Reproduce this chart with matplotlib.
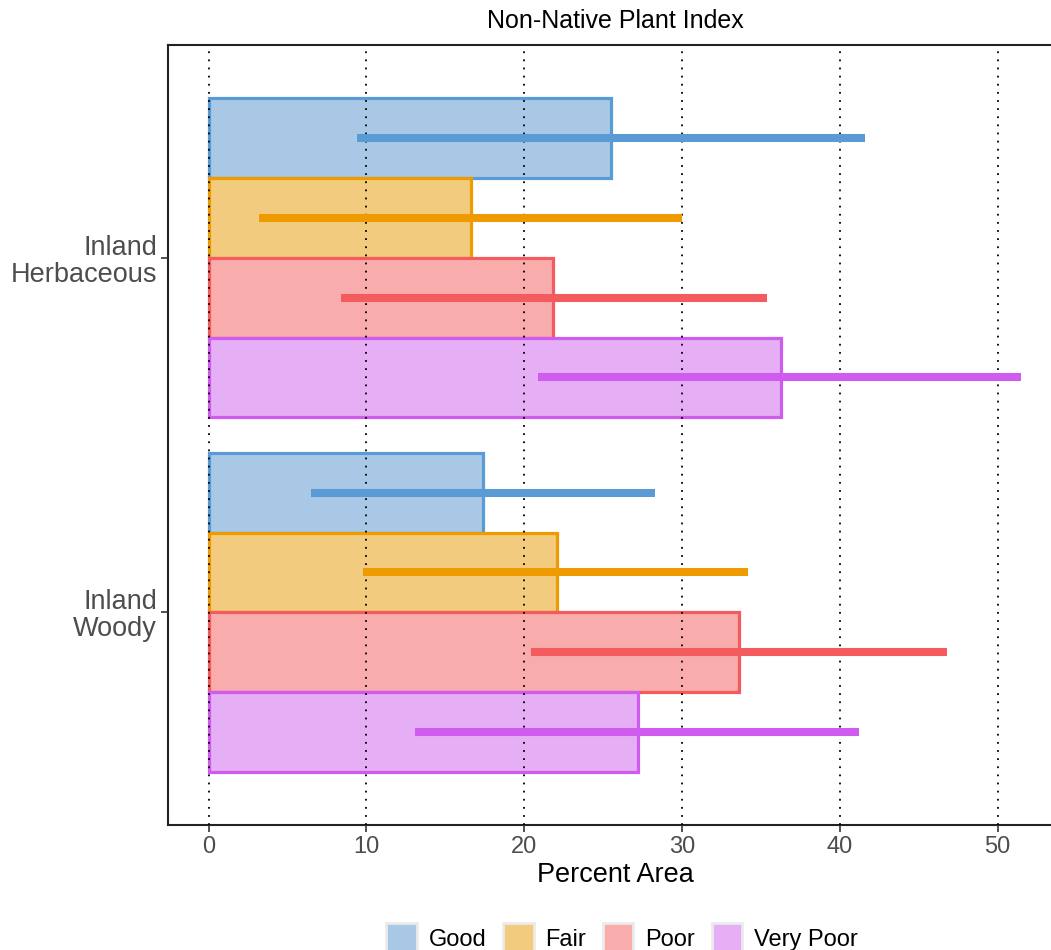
import numpy as np
import matplotlib.pyplot as plt
from matplotlib.patches import Patch

plt.rcParams['font.family'] = ['Liberation Sans', 'DejaVu Sans']

# habitat classes (top to bottom) and condition categories
habitats = ['Inland\nHerbaceous', 'Inland\nWoody']
conditions = ['Good', 'Fair', 'Poor', 'Very Poor']

# percent area estimates with lower / upper confidence bounds, one row per habitat
estimate = np.array([[25.5, 16.6, 21.8, 36.3],
                     [17.4, 22.1, 33.6, 27.2]])
lower = np.array([[9.4, 3.2, 8.4, 20.9],
                  [6.5, 9.8, 20.4, 13.1]])
upper = np.array([[41.6, 30.0, 35.4, 51.5],
                  [28.3, 34.2, 46.8, 41.2]])

fills = ['#A9C8E6', '#F3CB7E', '#F8ACAC', '#E5AEF5']
edges = ['#5B9BD5', '#EE9B00', '#F45B5E', '#CF5CEE']

fig = plt.figure(figsize=(10.51, 9.5), dpi=100)
ax = fig.add_axes([168 / 1051, 1 - 825 / 950, (1062 - 168) / 1051, (825 - 45) / 950])

group_w = 0.9
bar_h = group_w / len(conditions)
ypos = np.arange(len(habitats))

for j, cond in enumerate(conditions):
    y = ypos - group_w / 2 + bar_h * (j + 0.5)
    ax.barh(y, estimate[:, j], height=bar_h, color=fills[j], edgecolor=edges[j],
            linewidth=2.3, zorder=1)
    ax.hlines(y, lower[:, j], upper[:, j], color=edges[j], linewidth=5.8, zorder=3)

ax.set_xlim(-2.575, 54.08)
ax.set_ylim(1.6, -0.6)
ax.set_xticks([0, 10, 20, 30, 40, 50])
ax.set_yticks(ypos)
ax.set_yticklabels(habitats, fontsize=19.5, color='#4D4D4D', linespacing=1.05)
ax.tick_params(axis='x', labelsize=17, labelcolor='#4D4D4D', length=5, width=1.2,
               color='#333333', pad=3)
ax.tick_params(axis='y', length=5, width=1.2, color='#333333', pad=3)

ax.grid(axis='x', color='black', linestyle=(0, (1, 3.5)), linewidth=1.3, zorder=2)
ax.set_axisbelow(False)
for gl in ax.get_xgridlines():
    gl.set_zorder(2)

for side in ['left', 'bottom', 'top']:
    ax.spines[side].set_color('#222222')
    ax.spines[side].set_linewidth(1.5)
ax.spines['right'].set_visible(False)

ax.set_xlabel('Percent Area', fontsize=19.5, color='black', labelpad=3)
ax.set_title('Non-Native Plant Index', fontsize=18, pad=12)

handles = [Patch(facecolor=f, edgecolor='#EBEBEB', linewidth=2) for f in fills]
fig.legend(handles, conditions, loc='center', bbox_to_anchor=(622 / 1051, 1 - 938 / 950),
           ncol=4, frameon=False, fontsize=17, handlelength=1.3, handleheight=1.6,
           handletextpad=0.5, columnspacing=0.7)

fig.savefig('out.png', dpi=100)
